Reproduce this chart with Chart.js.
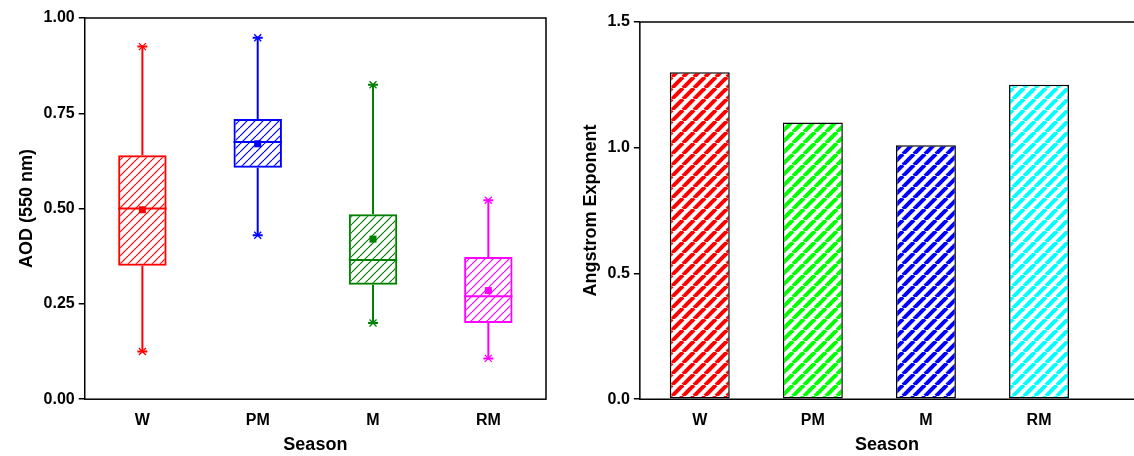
<!DOCTYPE html><html><head><script src="https://cdn.jsdelivr.net/npm/chart.js@4"></script>
<style>body{margin:0;background:#fff;width:1134px;height:456px;overflow:hidden;display:flex}
#a{width:562px;height:456px}#b{width:572px;height:456px}</style></head><body>
<div id="a"><canvas id="c1"></canvas></div><div id="b"><canvas id="c2"></canvas></div>
<script>
const seasons=['W','PM','M','RM'];
const boxMin=[0.125,0.43,0.20,0.107];
const boxQ1=[0.35,0.607,0.30,0.20];
const boxMedian=[0.50,0.675,0.365,0.27];
const boxQ3=[0.64,0.735,0.485,0.373];
const boxMax=[0.925,0.948,0.825,0.522];
const boxMean=[0.497,0.67,0.42,0.285];
const boxColors=['#ff0000','#0000ff','#008000','#ff00ff'];
const aeValues=[1.30,1.10,1.01,1.25];
const aeColors=['#ff0000','#00ff00','#0000ff','#00ffff'];
const aodTicks=[0,0.25,0.5,0.75,1.0];
const aeTicks=[0,0.5,1.0,1.5];

function hatch(color,bg,gap,lw){const cv=document.createElement('canvas');cv.width=gap;cv.height=gap;const x=cv.getContext('2d');
 if(bg){x.fillStyle=bg;x.fillRect(0,0,gap,gap);}x.strokeStyle=color;x.lineWidth=lw;
 for(const o of[-gap,0,gap]){x.beginPath();x.moveTo(o,gap);x.lineTo(o+gap,0);x.stroke();}
 return x.createPattern(cv,'repeat');}
const F='"Liberation Sans", Arial, sans-serif';
const frame={id:'frame',afterDraw(ch){const a=ch.chartArea,c=ch.ctx;c.save();c.strokeStyle='#000';c.lineWidth=1.5;
 if(ch.options.openRight){c.beginPath();c.moveTo(ch.width,a.top);c.lineTo(a.left,a.top);c.lineTo(a.left,a.bottom);c.lineTo(ch.width,a.bottom);c.stroke();}
 else c.strokeRect(a.left,a.top,a.right-a.left,a.bottom-a.top);c.restore();}};
const boxExtras={id:'bx',afterDatasetsDraw(ch){const c=ch.ctx,x=ch.scales.x,y=ch.scales.y;const meta=ch.getDatasetMeta(0);
 seasons.forEach((s,i)=>{const cx=x.getPixelForValue(i),w=meta.data[i].width,col=boxColors[i];c.save();c.strokeStyle=col;c.fillStyle=col;c.lineWidth=2;
 c.beginPath();c.moveTo(cx,y.getPixelForValue(boxQ3[i]));c.lineTo(cx,y.getPixelForValue(boxMax[i]));
 c.moveTo(cx,y.getPixelForValue(boxQ1[i]));c.lineTo(cx,y.getPixelForValue(boxMin[i]));
 const ym=y.getPixelForValue(boxMedian[i]);c.moveTo(cx-w/2,ym);c.lineTo(cx+w/2,ym);
 for(const v of[boxMin[i],boxMax[i]]){const py=y.getPixelForValue(v);c.moveTo(cx-5,py);c.lineTo(cx+5,py);}
 c.stroke();c.lineWidth=1.3;
 for(const v of[boxMin[i],boxMax[i]]){const py=y.getPixelForValue(v);c.beginPath();c.moveTo(cx-3.5,py-3.5);c.lineTo(cx+3.5,py+3.5);c.moveTo(cx+3.5,py-3.5);c.lineTo(cx-3.5,py+3.5);c.stroke();}
 const mp=y.getPixelForValue(boxMean[i]);c.fillRect(cx-3.5,mp-3.5,7,7);c.restore();});}};
const tickFont={family:F,size:16,weight:'bold'},titleFont={family:F,size:18,weight:'bold'};
function yAxis(ymax,step,ttl,ticksArr){return{min:0,max:ymax,afterBuildTicks:s=>{s.ticks=ticksArr.map(v=>({value:v}));},grid:{drawOnChartArea:false,tickLength:6,color:'#000',lineWidth:1.5},border:{display:false},
   ticks:{color:'#000',font:tickFont,padding:4,callback:v=>v.toFixed(step)},title:{display:true,text:ttl,color:'#000',font:titleFont,padding:2}};}
const xTitle={display:true,text:'Season',color:'#000',font:titleFont,padding:0};
new Chart(document.getElementById('c1'),{type:'bar',data:{labels:seasons,datasets:[{data:seasons.map((s,i)=>[boxQ1[i],boxQ3[i]]),
 backgroundColor:boxColors.map(c=>hatch(c,null,8,1.2)),borderColor:boxColors,borderWidth:2,borderSkipped:false,barPercentage:0.42,categoryPercentage:1}]},
 options:{animation:false,responsive:true,maintainAspectRatio:false,layout:{padding:{top:18,right:16,left:14,bottom:0}},plugins:{legend:{display:false},tooltip:{enabled:false}},
 scales:{x:{grid:{display:false},border:{display:false},ticks:{color:'#000',font:tickFont,padding:4},title:xTitle},y:yAxis(1,2,'AOD (550 nm)',aodTicks)}},plugins:[frame,boxExtras]});
new Chart(document.getElementById('c2'),{type:'bar',data:{datasets:[{data:aeValues.map((v,i)=>({x:i+1,y:v})),backgroundColor:aeColors.map(c=>hatch(c,'#fff',11,4)),borderColor:'#000',borderWidth:1.5,borderSkipped:false,barPercentage:0.53,categoryPercentage:1}]},
 options:{openRight:true,animation:false,responsive:true,maintainAspectRatio:false,layout:{padding:{top:22,right:0,left:16,bottom:0}},plugins:{legend:{display:false},tooltip:{enabled:false}},
 scales:{x:{type:'linear',offset:false,bounds:'data',min:0.47,max:4.84,afterBuildTicks:s=>{s.ticks=seasons.map((t,i)=>({value:i+1}));},grid:{display:false,offset:false},border:{display:false},ticks:{color:'#000',font:tickFont,padding:4,callback:v=>seasons[v-1]},title:Object.assign({},xTitle,{padding:{top:0,bottom:0}})},
 y:yAxis(1.5,1,'Angstrom Exponent',aeTicks)}},plugins:[frame]});
</script></body></html>
